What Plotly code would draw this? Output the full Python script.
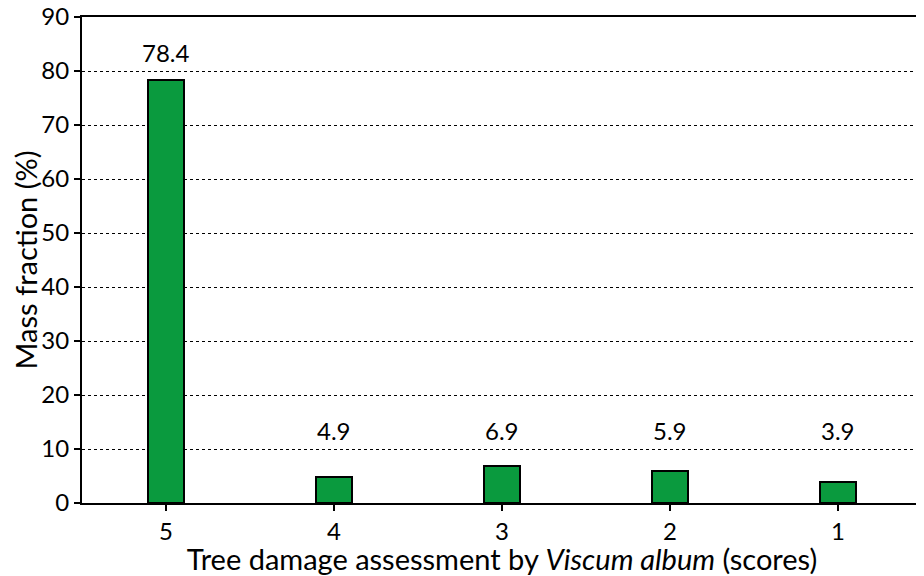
import math
import plotly.graph_objects as go

# scores on the x axis, shown from 5 down to 1
scores = ["5", "4", "3", "2", "1"]
mass_fraction = [78.4, 4.9, 6.9, 5.9, 3.9]
y_ticks = [0, 10, 20, 30, 40, 50, 60, 70, 80, 90]

font = "Lato, Open Sans, sans-serif"

fig = go.Figure()
fig.add_trace(go.Bar(
    x=scores,
    y=mass_fraction,
    width=0.215,
    marker=dict(color="#0a9a3e", line=dict(color="black", width=2)),
    showlegend=False,
))

# value labels sit just above the next gridline over each bar
for i, v in enumerate(mass_fraction):
    fig.add_annotation(
        x=i, y=math.ceil(v / 10) * 10, text=f"{v:.1f}",
        showarrow=False, yanchor="bottom", yshift=2,
        font=dict(size=24, color="black", family=font),
    )

# page body adds an 8px margin, so the figure is a bit smaller than the window
fig.update_layout(
    width=916, height=568,
    margin=dict(l=74, r=2, t=9, b=73, autoexpand=False),
    plot_bgcolor="white", paper_bgcolor="white",
    font=dict(family=font, size=24, color="black"),
    bargap=0,
)
fig.update_xaxes(
    type="category", range=[-0.5, 4.5], automargin=False,
    showline=True, linecolor="black", linewidth=2, mirror=True,
    ticks="outside", ticklen=6, tickwidth=2, tickcolor="black",
    showgrid=False,
    title=dict(text="Tree damage assessment by <i>Viscum album</i> (scores)",
               standoff=0),
)
fig.update_yaxes(
    range=[0, 90], tickvals=y_ticks, automargin=False,
    ticklabeloverflow="allow",
    showline=True, linecolor="black", linewidth=2, mirror=True,
    ticks="outside", ticklen=6, tickwidth=2, tickcolor="black",
    showgrid=True, gridcolor="black", gridwidth=1, griddash="dot",
    zeroline=False,
    title=dict(text="Mass fraction (%)", standoff=4),
)

fig.write_html("out.html")
